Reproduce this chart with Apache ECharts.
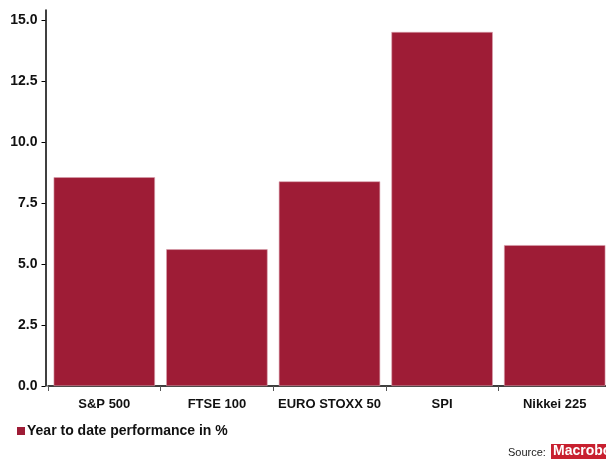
<!DOCTYPE html>
<html><head><meta charset="utf-8">
<script src="https://cdn.jsdelivr.net/npm/echarts@6/dist/echarts.min.js"></script>
<style>html,body{margin:0;padding:0;background:#fff}#c{width:606px;height:459px}</style>
</head><body><div id="c"></div>
<script>
const categories = ['S&P 500', 'FTSE 100', 'EURO STOXX 50', 'SPI', 'Nikkei 225'];
const values = [8.55, 5.6, 8.38, 14.5, 5.77];
const seriesName = 'Year to date performance in %';
const yTicks = [0, 2.5, 5, 7.5, 10, 12.5, 15];

const chart = echarts.init(document.getElementById('c'));
const font = 'Liberation Sans, Arial, sans-serif';
chart.setOption({
  animation: false,
  grid: {left: 48, top: 10, width: 563, bottom: 73, outerBoundsMode: 'none'},
  legend: {
    left: 12, top: 419, itemWidth: 8, itemHeight: 8, icon: 'rect', itemGap: 4,
    itemStyle: {borderWidth: 0},
    textStyle: {fontFamily: font, fontWeight: 'bold', fontSize: 14, color: '#111', padding: [0,0,0,-3]},
    data: [seriesName]
  },
  xAxis: {
    type: 'category', data: categories,
    axisLine: {lineStyle: {color: '#000', width: 1.5}},
    axisTick: {show: true, length: 5, interval: 0, lineStyle: {color: '#555'}},
    axisLabel: {interval: 0, fontFamily: font, fontWeight: 'bold', fontSize: 13, color: '#111', margin: 12}
  },
  yAxis: {
    type: 'value', min: 0, max: 15.4, interval: 2.5, offset: 2.5,
    axisLine: {show: true, lineStyle: {color: '#000', width: 1.5}},
    axisTick: {show: true, length: 4, lineStyle: {color: '#000'}},
    splitLine: {show: false},
    axisLabel: {fontFamily: font, fontWeight: 'bold', fontSize: 14, color: '#111', margin: 8, showMaxLabel: false,
      formatter: v => yTicks.includes(v) ? v.toFixed(1) : ''}
  },
  series: [{
    name: seriesName, type: 'bar', data: values, barCategoryGap: '10%',
    itemStyle: {color: '#9E1C36', borderColor: '#D9A0AC', borderWidth: 0.6}
  }],
  graphic: [
    {type: 'text', left: 508, top: 447, style: {text: 'Source:', font: '11px ' + font, fill: '#222'}},
    {type: 'rect', shape: {x: 551, y: 444, width: 60, height: 16}, style: {fill: '#C8202F'}},
    {type: 'text', left: 553, top: 444, style: {text: 'Macrobond', font: 'bold 14px ' + font, fill: '#fff'}}
  ]
});
</script></body></html>
